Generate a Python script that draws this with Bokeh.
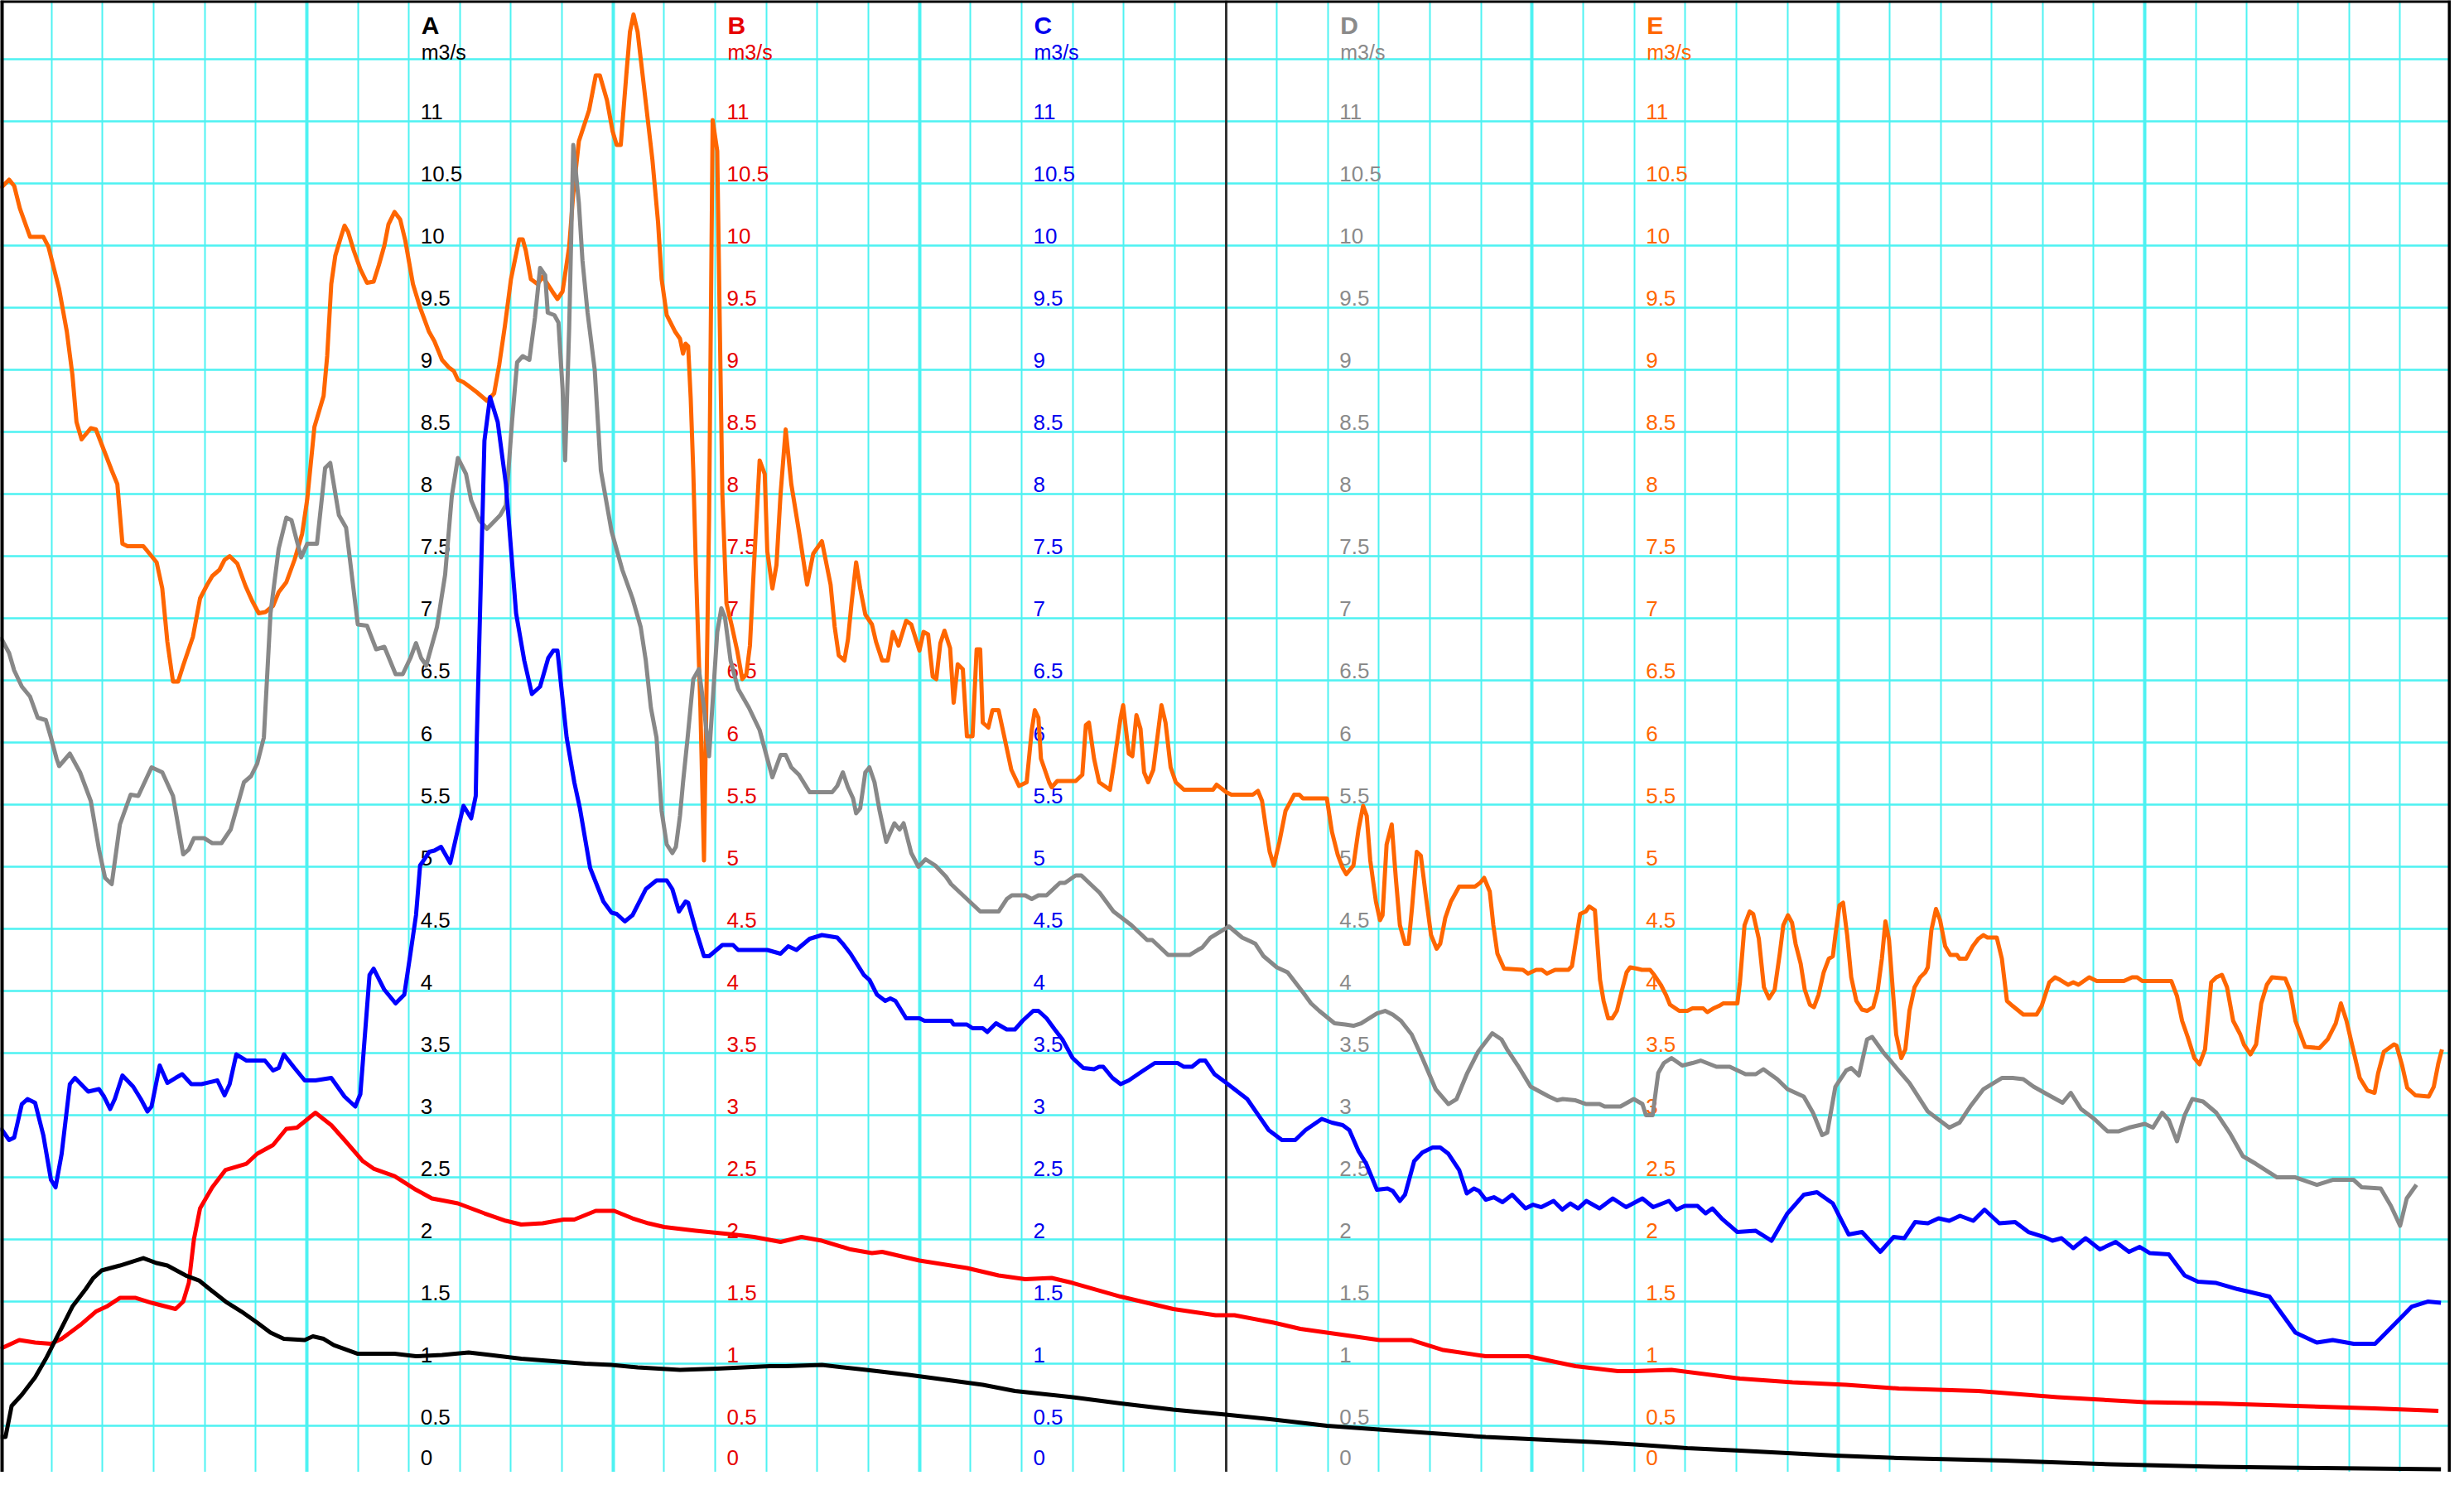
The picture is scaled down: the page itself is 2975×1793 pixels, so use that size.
from bokeh.plotting import figure
from bokeh.models import ColumnDataSource, Grid, FixedTicker, Span
from bokeh.core.properties import value
from bokeh.embed import file_html
from bokeh.resources import INLINE

# ---------------- data (time in hours 0..48, discharge in m3/s) ----------------
A_pts = [(0.0,0.41),(0.1,0.41),(0.22,0.66),(0.42,0.75),(0.68,0.89),(0.89,1.04),(1.2,1.29),(1.41,1.46),
 (1.67,1.60),(1.82,1.69),(1.98,1.75),(2.34,1.79),(2.8,1.85),(3.06,1.81),(3.27,1.79),(3.63,1.71),(3.89,1.67),
 (4.1,1.60),(4.41,1.50),(4.72,1.42),(5.03,1.33),(5.29,1.25),(5.55,1.20),(5.96,1.19),(6.12,1.22),(6.33,1.20),
 (6.53,1.15),(7.0,1.08),(7.31,1.08),(7.72,1.08),(8.14,1.06),(8.65,1.07),(9.17,1.09),(9.59,1.07),(10.2,1.04),
 (10.83,1.02),(11.45,1.00),(11.97,0.99),(12.48,0.97),(13.31,0.95),(14.04,0.96),(14.55,0.97),(15.07,0.98),
 (15.38,0.98),(16.09,0.99),(16.96,0.95),(17.79,0.91),(18.52,0.87),(19.24,0.83),(19.87,0.78),(21.0,0.73),
 (21.94,0.68),(22.97,0.63),(24.0,0.59),(24.94,0.55),(25.98,0.50),(27.0,0.47),(28.05,0.44),(29.09,0.41),
 (30.12,0.39),(31.16,0.37),(32.0,0.35),(33.04,0.32),(34.07,0.30),(35.94,0.26),(37.18,0.24),(39.25,0.22),
 (41.33,0.19),(43.4,0.17),(45.47,0.16),(47.8,0.15)]

B_pts = [(0.0,1.12),(0.37,1.19),(0.68,1.17),(0.99,1.16),(1.2,1.2),(1.56,1.31),(1.87,1.42),(2.08,1.46),
 (2.34,1.53),(2.65,1.53),(2.96,1.49),(3.43,1.44),(3.58,1.50),(3.69,1.65),(3.79,2.0),(3.91,2.25),(4.15,2.42),
 (4.41,2.56),(4.82,2.61),(5.03,2.69),(5.34,2.76),(5.6,2.89),(5.81,2.90),(6.17,3.02),(6.48,2.92),(6.74,2.80),
 (7.1,2.63),(7.31,2.57),(7.72,2.51),(8.14,2.40),(8.45,2.33),(8.71,2.31),(8.96,2.29),(9.48,2.21),(9.9,2.15),
 (10.2,2.12),(10.62,2.13),(11.03,2.16),(11.24,2.16),(11.66,2.23),(12.02,2.23),(12.38,2.17),(12.69,2.13),
 (13.0,2.10),(13.62,2.07),(14.35,2.04),(14.76,2.02),(15.28,1.98),(15.69,2.02),(16.09,1.99),(16.65,1.92),
 (17.07,1.89),(17.27,1.90),(18.0,1.83),(18.93,1.77),(19.55,1.71),(20.07,1.68),(20.59,1.69),(21.0,1.65),
 (21.94,1.54),(22.97,1.44),(23.8,1.39),(24.17,1.39),(24.94,1.33),(25.46,1.28),(26.5,1.22),(27.01,1.19),
 (27.64,1.19),(28.26,1.11),(29.09,1.06),(29.92,1.06),(30.85,0.98),(31.68,0.94),(32.0,0.94),(32.73,0.95),
 (34.07,0.88),(35.1,0.85),(36.15,0.83),(37.18,0.80),(38.74,0.78),(40.29,0.73),(42.0,0.69),(43.4,0.68),
 (44.95,0.66),(46.5,0.64),(47.75,0.62)]

C_pts = [(0.0,2.90),(0.17,2.80),(0.27,2.82),(0.42,3.09),(0.53,3.13),(0.68,3.10),(0.84,2.84),(0.99,2.48),
 (1.08,2.42),(1.2,2.69),(1.36,3.25),(1.46,3.30),(1.72,3.19),(1.93,3.21),(2.03,3.15),(2.15,3.05),(2.24,3.13),
 (2.39,3.32),(2.6,3.23),(2.75,3.13),(2.88,3.03),(2.96,3.07),(3.12,3.40),(3.27,3.26),(3.43,3.30),(3.56,3.33),
 (3.74,3.25),(3.94,3.25),(4.25,3.28),(4.39,3.16),(4.49,3.25),(4.62,3.49),(4.82,3.44),(5.18,3.44),(5.34,3.36),
 (5.45,3.38),(5.55,3.49),(5.76,3.38),(5.96,3.28),(6.17,3.28),(6.48,3.30),(6.74,3.15),(6.95,3.07),(7.05,3.17),
 (7.23,4.13),(7.31,4.18),(7.52,4.01),(7.74,3.90),(7.91,3.97),(8.03,4.30),(8.14,4.61),(8.22,5.01),(8.4,5.12),
 (8.5,5.13),(8.63,5.16),(8.81,5.03),(8.96,5.30),(9.07,5.49),(9.22,5.39),(9.31,5.57),(9.33,6.02),(9.48,8.43),
 (9.59,8.78),(9.74,8.58),(9.9,8.08),(10.1,7.04),(10.26,6.66),(10.41,6.39),(10.57,6.45),(10.73,6.68),
 (10.83,6.74),(10.91,6.74),(11.09,6.04),(11.24,5.68),(11.35,5.47),(11.55,4.99),(11.81,4.72),(11.97,4.63),
 (12.07,4.62),(12.23,4.56),(12.38,4.61),(12.64,4.82),(12.85,4.89),(13.05,4.89),(13.16,4.82),(13.29,4.64),
 (13.42,4.72),(13.47,4.71),(13.62,4.49),(13.78,4.28),(13.88,4.28),(14.14,4.37),(14.35,4.37),(14.45,4.33),
 (15.02,4.33),(15.28,4.30),(15.43,4.36),(15.59,4.33),(15.85,4.42),(16.09,4.45),(16.39,4.43),(16.5,4.38),
 (16.65,4.30),(16.91,4.13),(17.02,4.09),(17.17,3.97),(17.33,3.92),(17.43,3.94),(17.53,3.92),(17.74,3.78),
 (18.0,3.78),(18.1,3.76),(18.62,3.76),(18.67,3.73),(18.93,3.73),(19.04,3.70),(19.24,3.70),(19.33,3.67),
 (19.5,3.74),(19.71,3.69),(19.87,3.69),(20.02,3.76),(20.23,3.84),(20.33,3.84),(20.49,3.78),(20.65,3.69),
 (20.8,3.61),(21.0,3.46),(21.21,3.38),(21.42,3.37),(21.52,3.39),(21.6,3.39),(21.78,3.30),(21.94,3.25),
 (22.1,3.28),(22.35,3.35),(22.61,3.42),(23.06,3.42),(23.18,3.39),(23.34,3.39),(23.49,3.44),(23.6,3.44),
 (23.78,3.33),(24.01,3.26),(24.42,3.13),(24.84,2.88),(25.1,2.80),(25.36,2.80),(25.56,2.88),(25.88,2.97),
 (26.08,2.94),(26.29,2.92),(26.42,2.88),(26.6,2.71),(26.75,2.61),(26.96,2.40),(27.17,2.41),(27.27,2.39),
 (27.41,2.31),(27.51,2.36),(27.69,2.63),(27.85,2.70),(28.05,2.74),(28.2,2.74),(28.36,2.69),(28.57,2.56),
 (28.72,2.37),(28.86,2.41),(28.96,2.39),(29.09,2.32),(29.25,2.34),(29.42,2.30),(29.61,2.36),(29.87,2.25),
 (30.02,2.28),(30.18,2.26),(30.42,2.31),(30.59,2.24),(30.75,2.29),(30.9,2.25),(31.06,2.31),(31.32,2.25),
 (31.58,2.33),(31.84,2.26),(32.16,2.33),(32.37,2.26),(32.68,2.31),(32.83,2.24),(32.99,2.27),(33.24,2.27),
 (33.4,2.21),(33.53,2.25),(33.71,2.17),(34.02,2.06),(34.38,2.07),(34.69,1.99),(35.0,2.21),(35.32,2.36),
 (35.58,2.38),(35.89,2.29),(36.2,2.04),(36.46,2.06),(36.82,1.90),(37.08,2.02),(37.29,2.01),(37.5,2.14),
 (37.75,2.13),(37.96,2.17),(38.17,2.15),(38.38,2.19),(38.64,2.15),(38.86,2.24),(39.15,2.13),(39.46,2.14),
 (39.72,2.06),(40.03,2.02),(40.19,1.99),(40.37,2.01),(40.6,1.93),(40.84,2.01),(41.12,1.92),(41.43,1.98),
 (41.69,1.90),(41.9,1.94),(42.1,1.89),(42.47,1.88),(42.78,1.71),(43.04,1.66),(43.4,1.65),(43.82,1.60),
 (44.44,1.54),(44.95,1.25),(45.37,1.17),(45.68,1.19),(46.09,1.16),(46.51,1.16),(46.92,1.33),(47.23,1.46),
 (47.54,1.50),(47.8,1.49)]

D_pts = [(0.0,6.85),(0.17,6.72),(0.27,6.58),(0.42,6.45),(0.58,6.37),(0.73,6.20),(0.89,6.18),(0.99,6.04),
 (1.1,5.87),(1.15,5.81),(1.36,5.91),(1.56,5.76),(1.77,5.53),(1.93,5.14),(2.05,4.91),(2.18,4.86),(2.34,5.34),
 (2.55,5.58),(2.7,5.57),(2.96,5.80),(3.17,5.76),(3.38,5.57),(3.58,5.10),(3.69,5.14),(3.79,5.23),(3.99,5.23),
 (4.15,5.19),(4.33,5.19),(4.51,5.30),(4.77,5.68),(4.91,5.73),(5.03,5.83),(5.16,6.04),(5.29,7.04),(5.45,7.56),
 (5.6,7.81),(5.7,7.79),(5.89,7.49),(6.01,7.6),(6.2,7.6),(6.36,8.21),(6.46,8.25),(6.63,7.83),(6.77,7.73),
 (7.0,6.95),(7.18,6.94),(7.36,6.75),(7.52,6.77),(7.74,6.55),(7.88,6.55),(8.03,6.68),(8.14,6.80),(8.24,6.68),
 (8.34,6.62),(8.55,6.93),(8.71,7.35),(8.84,7.98),(8.96,8.29),(9.12,8.16),(9.22,7.95),(9.38,7.79),(9.53,7.72),
 (9.79,7.83),(9.9,7.91),(10.02,8.58),(10.12,9.06),(10.23,9.11),(10.36,9.08),(10.47,9.42),(10.57,9.82),
 (10.67,9.76),(10.72,9.46),(10.85,9.44),(10.93,9.38),(11.01,8.85),(11.06,8.27),(11.14,9.34),(11.22,10.81),
 (11.33,10.34),(11.4,9.88),(11.5,9.46),(11.64,9.0),(11.76,8.19),(11.97,7.70),(12.18,7.39),(12.38,7.16),
 (12.54,6.93),(12.64,6.66),(12.74,6.28),(12.85,6.04),(12.95,5.45),(13.05,5.18),(13.16,5.11),(13.23,5.16),
 (13.31,5.41),(13.37,5.68),(13.46,6.04),(13.57,6.51),(13.68,6.59),(13.78,6.28),(13.88,5.89),(14.04,6.89),
 (14.12,7.08),(14.19,7.01),(14.3,6.66),(14.45,6.43),(14.66,6.28),(14.87,6.10),(15.02,5.87),(15.12,5.72),
 (15.28,5.90),(15.38,5.90),(15.49,5.80),(15.64,5.74),(15.85,5.60),(16.09,5.60),(16.29,5.60),(16.39,5.65),
 (16.5,5.76),(16.6,5.64),(16.7,5.55),(16.76,5.43),(16.84,5.47),(16.94,5.76),(17.02,5.80),(17.12,5.68),
 (17.22,5.45),(17.35,5.20),(17.51,5.35),(17.61,5.30),(17.69,5.35),(17.84,5.11),(17.98,5.00),(18.12,5.06),
 (18.31,5.01),(18.52,4.92),(18.62,4.86),(18.93,4.74),(19.19,4.64),(19.55,4.64),(19.71,4.74),(19.81,4.77),
 (20.07,4.77),(20.2,4.74),(20.33,4.77),(20.49,4.77),(20.75,4.87),(20.85,4.87),(21.06,4.93),(21.17,4.93),
 (21.53,4.79),(21.8,4.64),(22.15,4.53),(22.46,4.41),(22.56,4.41),(22.87,4.29),(23.29,4.29),(23.45,4.33),
 (23.54,4.35),(23.7,4.43),(24.06,4.52),(24.32,4.43),(24.48,4.40),(24.58,4.38),(24.74,4.28),(25.0,4.19),
 (25.21,4.15),(25.36,4.07),(25.51,3.99),(25.67,3.90),(25.83,3.84),(26.13,3.74),(26.34,3.73),(26.5,3.72),
 (26.65,3.74),(26.96,3.82),(27.12,3.84),(27.27,3.81),(27.43,3.76),(27.64,3.65),(27.85,3.46),(28.11,3.21),
 (28.36,3.09),(28.52,3.13),(28.73,3.34),(28.94,3.51),(29.22,3.66),(29.4,3.61),(29.51,3.53),(29.72,3.40),
 (29.97,3.23),(30.33,3.15),(30.49,3.12),(30.6,3.13),(30.85,3.12),(31.06,3.09),(31.32,3.09),(31.42,3.07),
 (31.73,3.07),(31.99,3.13),(32.16,3.09),(32.23,3.0),(32.36,3.0),(32.47,3.34),(32.58,3.42),(32.73,3.46),
 (32.94,3.40),(33.14,3.42),(33.3,3.44),(33.61,3.39),(33.87,3.39),(34.18,3.33),(34.38,3.33),(34.53,3.37),
 (34.8,3.29),(35.0,3.21),(35.32,3.15),(35.5,3.02),(35.68,2.84),(35.78,2.86),(35.94,3.23),(36.15,3.36),
 (36.25,3.38),(36.4,3.32),(36.56,3.61),(36.66,3.63),(36.87,3.51),(37.18,3.36),(37.39,3.26),(37.75,3.03),
 (37.91,2.98),(38.17,2.90),(38.37,2.94),(38.58,3.07),(38.84,3.21),(39.2,3.30),(39.41,3.30),(39.62,3.29),
 (39.82,3.23),(40.08,3.17),(40.39,3.10),(40.55,3.18),(40.75,3.05),(41.01,2.97),(41.27,2.87),(41.48,2.87),
 (41.69,2.90),(42.0,2.93),(42.16,2.90),(42.34,3.02),(42.47,2.96),(42.63,2.79),(42.78,3.00),(42.93,3.13),
 (43.14,3.11),(43.4,3.02),(43.66,2.86),(43.92,2.67),(44.17,2.61),(44.59,2.50),(44.95,2.50),(45.37,2.44),
 (45.68,2.48),(46.09,2.48),(46.25,2.42),(46.62,2.41),(46.82,2.27),(47.0,2.11),(47.13,2.33),(47.32,2.44)]

E_pts = [(0.0,10.46),(0.17,10.53),(0.27,10.48),(0.38,10.30),(0.58,10.07),(0.84,10.07),(0.94,9.99),
 (1.15,9.65),(1.3,9.31),(1.41,8.96),(1.49,8.58),(1.59,8.44),(1.77,8.53),(1.87,8.52),(2.03,8.35),(2.18,8.19),
 (2.29,8.08),(2.39,7.60),(2.49,7.58),(2.8,7.58),(3.06,7.45),(3.17,7.24),(3.27,6.81),(3.38,6.49),(3.48,6.49),
 (3.58,6.62),(3.77,6.85),(3.91,7.16),(4.05,7.27),(4.15,7.34),(4.29,7.39),(4.39,7.47),(4.49,7.50),(4.64,7.44),
 (4.8,7.26),(4.93,7.14),(5.06,7.04),(5.19,7.05),(5.34,7.10),(5.45,7.21),(5.6,7.29),(5.76,7.47),(5.91,7.68),
 (6.01,7.96),(6.15,8.54),(6.33,8.79),(6.4,9.11),(6.48,9.69),(6.56,9.92),(6.67,10.07),(6.74,10.16),
 (6.81,10.11),(6.92,9.96),(7.05,9.81),(7.18,9.70),(7.31,9.71),(7.41,9.84),(7.52,10.0),(7.6,10.17),
 (7.72,10.27),(7.83,10.21),(7.93,10.04),(8.08,9.69),(8.22,9.50),(8.39,9.31),(8.5,9.23),(8.65,9.08),
 (8.78,9.02),(8.88,8.99),(8.96,8.92),(9.07,8.90),(9.17,8.87),(9.33,8.82),(9.53,8.75),(9.67,8.81),(9.77,9.04),
 (9.88,9.35),(10.0,9.73),(10.16,10.05),(10.23,10.05),(10.29,9.96),(10.39,9.73),(10.52,9.69),(10.62,9.75),
 (10.81,9.63),(10.91,9.57),(11.01,9.63),(11.14,9.99),(11.22,10.42),(11.33,10.84),(11.45,10.99),(11.53,11.09),
 (11.66,11.37),(11.74,11.37),(11.88,11.17),(11.99,10.92),(12.07,10.81),(12.15,10.81),(12.26,11.38),
 (12.33,11.72),(12.4,11.86),(12.48,11.72),(12.61,11.26),(12.77,10.69),(12.88,10.19),(12.95,9.73),(13.05,9.44),
 (13.21,9.31),(13.31,9.25),(13.37,9.13),(13.42,9.21),(13.47,9.19),(13.52,8.77),(13.57,8.19),(13.62,7.43),
 (13.71,6.28),(13.78,5.05),(13.88,7.81),(13.95,11.01),(14.04,10.76),(14.09,9.35),(14.14,8.0),(14.22,7.12),
 (14.33,6.93),(14.43,6.74),(14.53,6.51),(14.61,6.55),(14.68,6.78),(14.76,7.43),(14.87,8.27),(14.97,8.16),
 (15.02,7.54),(15.12,7.24),(15.2,7.43),(15.28,8.0),(15.38,8.52),(15.49,8.08),(15.64,7.70),(15.8,7.27),
 (15.92,7.52),(16.09,7.62),(16.26,7.27),(16.34,6.93),(16.42,6.70),(16.53,6.66),(16.6,6.83),(16.67,7.12),
 (16.76,7.45),(16.84,7.24),(16.94,7.03),(17.07,6.95),(17.15,6.81),(17.27,6.66),(17.38,6.66),(17.48,6.89),
 (17.59,6.78),(17.74,6.98),(17.84,6.95),(18.0,6.74),(18.08,6.89),(18.17,6.87),(18.26,6.53),(18.33,6.51),
 (18.41,6.80),(18.49,6.90),(18.6,6.76),(18.67,6.32),(18.75,6.63),(18.85,6.59),(18.93,6.05),(19.04,6.05),
 (19.12,6.75),(19.19,6.75),(19.24,6.16),(19.35,6.12),(19.43,6.26),(19.55,6.26),(19.66,6.05),(19.8,5.78),
 (19.95,5.65),(20.1,5.68),(20.2,6.1),(20.26,6.26),(20.33,6.20),(20.38,5.87),(20.54,5.68),(20.59,5.64),
 (20.7,5.69),(21.06,5.69),(21.19,5.74),(21.26,6.14),(21.32,6.16),(21.42,5.87),(21.52,5.68),(21.73,5.62),
 (21.81,5.83),(21.94,6.20),(21.99,6.30),(22.1,5.91),(22.17,5.89),(22.25,6.22),(22.33,6.11),(22.4,5.76),
 (22.48,5.68),(22.58,5.78),(22.74,6.30),(22.82,6.16),(22.92,5.80),(23.02,5.68),(23.18,5.62),(23.75,5.62),
 (23.82,5.66),(24.01,5.60),(24.11,5.58),(24.53,5.58),(24.63,5.61),(24.71,5.53),(24.79,5.30),(24.86,5.12),
 (24.94,5.01),(25.05,5.20),(25.17,5.45),(25.34,5.58),(25.44,5.58),(25.51,5.55),(25.98,5.55),(26.08,5.28),
 (26.19,5.10),(26.29,4.99),(26.36,4.94),(26.5,5.01),(26.6,5.30),(26.69,5.49),(26.76,5.41),(26.83,5.05),
 (26.94,4.72),(27.02,4.57),(27.07,4.61),(27.15,5.18),(27.25,5.34),(27.33,4.91),(27.41,4.53),(27.51,4.38),
 (27.58,4.38),(27.65,4.68),(27.74,5.12),(27.82,5.09),(27.92,4.76),(28.02,4.45),(28.13,4.34),(28.2,4.38),
 (28.3,4.59),(28.41,4.72),(28.57,4.84),(28.88,4.84),(28.98,4.87),(29.06,4.91),(29.17,4.80),(29.24,4.53),
 (29.32,4.30),(29.45,4.18),(29.82,4.17),(29.92,4.14),(30.08,4.17),(30.19,4.17),(30.29,4.14),(30.45,4.17),
 (30.71,4.17),(30.78,4.20),(30.86,4.41),(30.94,4.62),(31.05,4.64),(31.12,4.68),(31.23,4.65),(31.33,4.09),
 (31.4,3.92),(31.49,3.78),(31.57,3.78),(31.66,3.84),(31.75,3.99),(31.85,4.15),(31.92,4.19),(32.05,4.18),
 (32.15,4.17),(32.31,4.17),(32.39,4.13),(32.52,4.05),(32.62,3.97),(32.7,3.89),(32.88,3.84),(33.04,3.84),
 (33.14,3.86),(33.35,3.86),(33.43,3.83),(33.55,3.86),(33.66,3.88),(33.74,3.90),(34.02,3.90),(34.07,4.07),
 (34.16,4.53),(34.26,4.64),(34.33,4.62),(34.44,4.42),(34.54,4.03),(34.64,3.94),(34.75,4.01),(34.85,4.30),
 (34.92,4.53),(35.01,4.61),(35.09,4.55),(35.16,4.38),(35.26,4.22),(35.34,4.01),(35.44,3.89),(35.52,3.87),
 (35.61,3.97),(35.71,4.15),(35.81,4.26),(35.89,4.28),(35.94,4.45),(36.02,4.69),(36.09,4.71),(36.17,4.45),
 (36.25,4.11),(36.35,3.92),(36.46,3.85),(36.56,3.84),(36.68,3.87),(36.77,4.01),(36.85,4.26),(36.92,4.56),
 (36.99,4.41),(37.06,4.03),(37.13,3.65),(37.23,3.46),(37.31,3.53),(37.39,3.84),(37.49,4.03),(37.6,4.11),
 (37.7,4.15),(37.75,4.19),(37.82,4.49),(37.91,4.66),(37.99,4.57),(38.09,4.36),(38.19,4.29),(38.32,4.29),
 (38.37,4.26),(38.5,4.26),(38.63,4.36),(38.74,4.42),(38.84,4.45),(38.92,4.43),(39.1,4.43),(39.2,4.26),
 (39.3,3.92),(39.41,3.88),(39.62,3.81),(39.88,3.81),(39.98,3.88),(40.13,4.07),(40.24,4.11),(40.34,4.09),
 (40.5,4.05),(40.6,4.07),(40.7,4.05),(40.91,4.11),(41.06,4.08),(41.59,4.08),(41.75,4.11),(41.85,4.11),
 (41.95,4.08),(42.52,4.08),(42.63,3.96),(42.73,3.76),(42.84,3.63),(42.97,3.46),(43.07,3.41),(43.18,3.53),
 (43.3,4.07),(43.4,4.11),(43.51,4.13),(43.61,4.03),(43.73,3.76),(43.87,3.65),(43.94,3.57),(44.07,3.49),
 (44.18,3.57),(44.28,3.90),(44.39,4.05),(44.49,4.11),(44.75,4.10),(44.85,4.00),(44.95,3.76),(45.14,3.55),
 (45.42,3.54),(45.58,3.61),(45.74,3.74),(45.84,3.90),(45.95,3.76),(46.08,3.53),(46.21,3.30),(46.36,3.20),
 (46.5,3.18),(46.57,3.34),(46.68,3.51),(46.88,3.57),(46.93,3.56),(47.04,3.40),(47.14,3.22),(47.3,3.16),
 (47.56,3.15),(47.66,3.23),(47.75,3.42),(47.82,3.53)]

A_t = [t for t, q in A_pts]; A_q = [q for t, q in A_pts]
B_t = [t for t, q in B_pts]; B_q = [q for t, q in B_pts]
C_t = [t for t, q in C_pts]; C_q = [q for t, q in C_pts]
D_t = [t for t, q in D_pts]; D_q = [q for t, q in D_pts]
E_t = [t for t, q in E_pts]; E_q = [q for t, q in E_pts]

series_names = ["A", "B", "C", "D", "E"]
series_unit = "m3/s"
axis_hours = [8, 14, 20, 26, 32]               # where each scale column is printed
tick_values = [i * 0.5 for i in range(1, 23)]  # 0.5 .. 11
tick_labels = [("%g" % v) for v in tick_values]
zero_label = "0"
now_hour = 24
hours_total = 48

# ---------------- styles ----------------
COL = {"A": "#000000", "B": "#ff0000", "C": "#0000ff", "D": "#888888", "E": "#ff6600"}
TXT = {"A": "#000000", "B": "#e60000", "C": "#0000ee", "D": "#8a8a8a", "E": "#ff6600"}
CYAN = "#4ef2f2"
FONT = value("Liberation Sans")
Y0, Y1 = 0.127, 11.973

W, H = 2959, 1777
p = figure(width=W, height=H, x_range=(0, hours_total), y_range=(Y0, Y1),
           output_backend="svg", toolbar_location=None,
           x_axis_location=None, y_axis_location=None, min_border=0)
p.outline_line_color = None
p.background_fill_color = "white"
p.border_fill_color = "white"
for g in p.xgrid + p.ygrid:
    g.visible = False

minor = [k for k in range(1, hours_total) if k % 6 != 0]
major = [k for k in range(6, hours_total, 6) if k != now_hour]
p.add_layout(Grid(dimension=0, ticker=FixedTicker(ticks=minor), grid_line_color=CYAN, grid_line_width=2))
p.add_layout(Grid(dimension=0, ticker=FixedTicker(ticks=major), grid_line_color=CYAN, grid_line_width=4))
p.add_layout(Grid(dimension=1, ticker=FixedTicker(ticks=[i * 0.5 for i in range(0, 24)]),
                  grid_line_color=CYAN, grid_line_width=2.5))
p.add_layout(Grid(dimension=0, ticker=FixedTicker(ticks=[now_hour]), grid_line_color="#333333",
                  grid_line_width=3))

# scale columns
for name, xh in zip(series_names, axis_hours):
    src = ColumnDataSource(dict(x=[xh] * len(tick_values), y=tick_values, t=tick_labels))
    p.text(x="x", y="y", text="t", source=src, text_color=TXT[name], text_font=FONT,
           text_font_size="26px", text_align="left", text_baseline="alphabetic",
           x_offset=14, y_offset=-11)
    # the zero label is kept just inside the lower frame edge (its gridline lies below the view)
    p.text(x=[xh], y=[Y0], text=[zero_label], text_color=TXT[name], text_font=FONT,
           text_font_size="26px", text_align="left", text_baseline="bottom",
           x_offset=14, y_offset=-9)
    p.text(x=[xh], y=[11.5], text=[series_unit], text_color=TXT[name], text_font=FONT,
           text_font_size="25px", text_align="left", text_baseline="alphabetic",
           x_offset=15, y_offset=-8)
    p.text(x=[xh], y=[11.5], text=[name], text_color=TXT[name], text_font=FONT,
           text_font_size="30px", text_font_style="bold", text_align="left",
           text_baseline="alphabetic", x_offset=15, y_offset=-41)

# lines (E drawn first, A on top)
for name, t, q in [("E", E_t, E_q), ("D", D_t, D_q), ("C", C_t, C_q), ("B", B_t, B_q), ("A", A_t, A_q)]:
    p.line(t, q, line_color=COL[name], line_width=5, line_join="round")

# frame border (left, top, right)
p.add_layout(Span(location=0, dimension="height", line_color="black", line_width=8))
p.add_layout(Span(location=hours_total, dimension="height", line_color="black", line_width=8))
p.add_layout(Span(location=Y1, dimension="width", line_color="black", line_width=6))

open("out.html", "w").write(file_html(p, INLINE))
